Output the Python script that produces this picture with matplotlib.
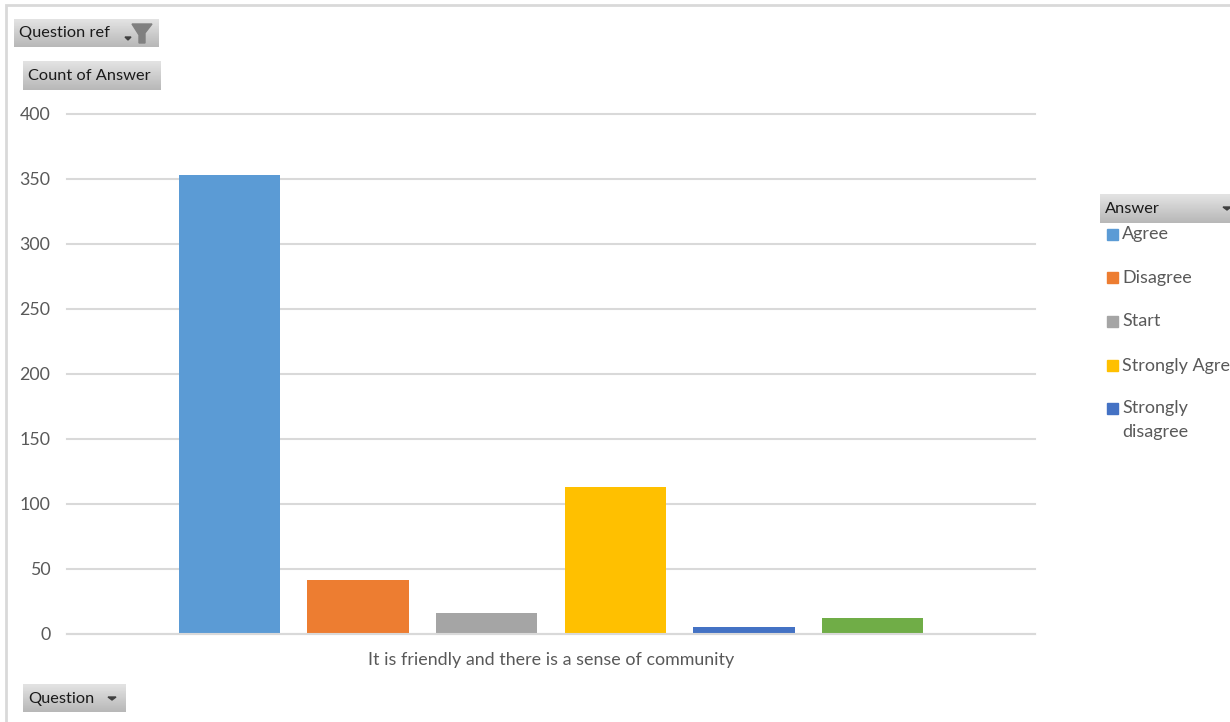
import matplotlib
matplotlib.use('Agg')
import matplotlib.pyplot as plt
import numpy as np
from matplotlib.patches import Rectangle

plt.rcParams['font.family'] = ['Lato', 'DejaVu Sans']

answers = ['Agree', 'Disagree', 'Start', 'Strongly Agree', 'Strongly\ndisagree', '(blank)']
counts = [353, 41, 16, 113, 5, 12]
colors = ['#5B9BD5', '#ED7D31', '#A5A5A5', '#FFC000', '#4472C4', '#70AD47']
yticks = [0, 50, 100, 150, 200, 250, 300, 350, 400]
category = 'It is friendly and there is a sense of community'

W, H = 1230, 722
fig = plt.figure(figsize=(W / 100, H / 100), dpi=100)

# chart axes, placed to line up with the gridlines
ax = fig.add_axes([67 / W, 1 - 633.5 / H, (1035 - 67) / W, (633.5 - 114) / H])
x = np.arange(len(counts))
ax.bar(x, counts, width=0.79, color=colors, zorder=3)
ax.set_xlim(-1.264, 6.264)
ax.set_ylim(0, 400)
ax.set_yticks(yticks)
ax.tick_params(axis='y', length=0, labelsize=12.8, labelcolor='#595959', pad=12)
ax.set_xticks([2.5])
ax.set_xticklabels([category])
ax.tick_params(axis='x', length=0, labelsize=12.9, labelcolor='#595959', pad=13)
ax.grid(axis='y', color='#D9D9D9', linewidth=1.5, zorder=0, clip_on=False)
ax.set_axisbelow(True)
for side in ['top', 'right', 'left']:
    ax.spines[side].set_visible(False)
ax.spines['bottom'].set_color('#D9D9D9')
ax.spines['bottom'].set_linewidth(1.5)
ax.spines['bottom'].set_zorder(4)

# overlay in pixel coordinates for the pivot buttons and the legend
ov = fig.add_axes([0, 0, 1, 1], facecolor='none')
ov.set_xlim(0, W)
ov.set_ylim(H, 0)
ov.axis('off')

# outer border
ov.plot([6, 6, W], [H, 5, 5], color='#D9D9D9', linewidth=2, solid_joinstyle='miter')


def button(x0, y0, x1, y1, label, arrow=None, arrow_y=14, arrow_w=4):
    grad = np.linspace(0.89, 0.72, 32).reshape(-1, 1)
    ov.imshow(grad, extent=[x0, x1, y1, y0], cmap='gray', vmin=0, vmax=1,
              aspect='auto', zorder=2)
    ov.text(x0 + 5, (y0 + y1) / 2 + 0.5, label, fontsize=11.8, color='#1A1A1A',
            va='center', ha='left', zorder=3)
    if arrow is not None:
        ov.fill([arrow - arrow_w, arrow + arrow_w, arrow],
                [y0 + arrow_y - 1, y0 + arrow_y - 1, y0 + arrow_y + 2],
                color='#404040', zorder=3)


button(14, 19, 159, 47, 'Question ref', arrow=128, arrow_y=19, arrow_w=3)
button(23, 61, 161, 90, 'Count of Answer')
button(23, 684, 126, 712, 'Question', arrow=112)
button(1100, 194, 1232, 223, 'Answer', arrow=1227)

# filter funnel on the first button
ov.fill([132, 152, 145, 145, 139, 139], [24, 24, 33, 43, 43, 35],
        color='#808080', zorder=3)

# legend
legend_y = [234, 277, 321, 365, 408]
for name, col, y in zip(answers[:5], colors[:5], legend_y):
    ov.add_patch(Rectangle((1107, y - 5), 10.5, 10.5, color=col, zorder=3))
    ov.text(1122, y - 7.5, name, fontsize=13, color='#595959', va='top',
            ha='left', linespacing=1.55, clip_on=True, zorder=3)

ov.set_xlim(0, W)
ov.set_ylim(H, 0)

fig.savefig('out.png', dpi=100, facecolor='white')
